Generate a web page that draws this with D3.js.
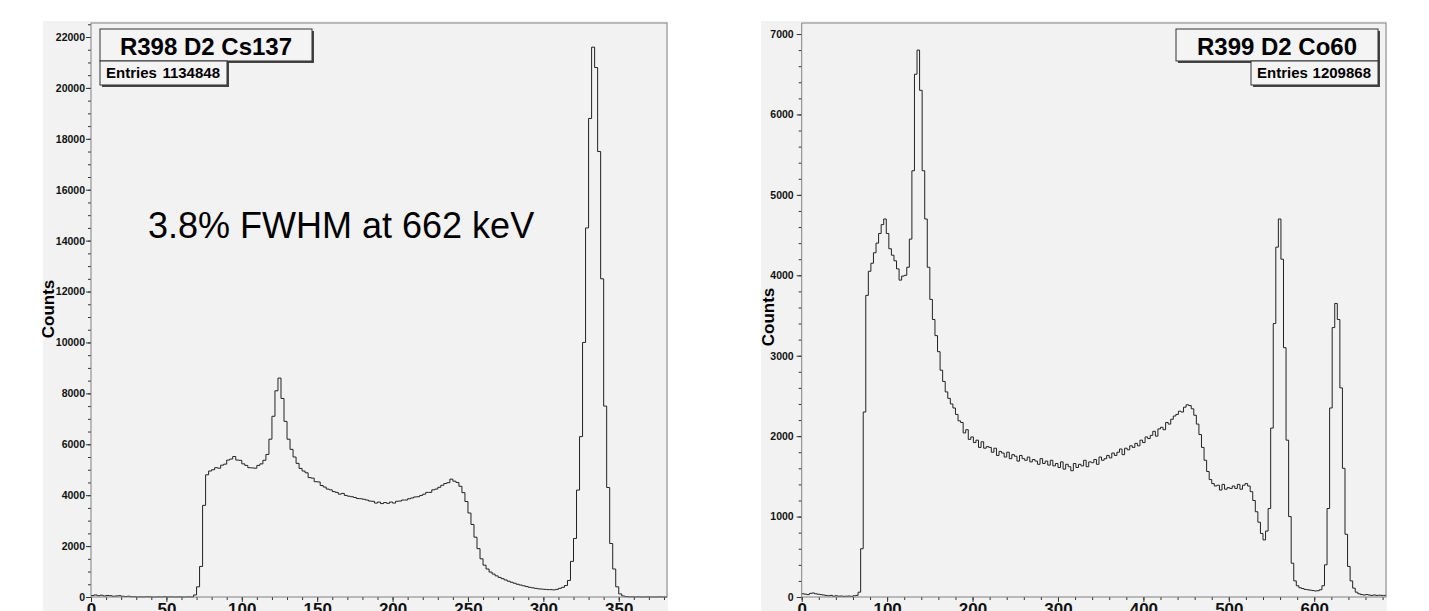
<!DOCTYPE html>
<html>
<meta charset="utf-8">
<head>
    <title>R398 D2 Cs137 / R399 D2 Co60</title>
    <script src="https://d3js.org/d3.v7.min.js" charset="utf-8"></script>
    <style>
    body { margin: 0; background: #fff; }
    svg text { font-family: "Liberation Sans", Arial, Helvetica, sans-serif; }
    </style>
</head>
<body>
<script>

// ---- Cs137 run (left), bins of 2 channels ----
var csBinWidth = 2;
var csCounts = [
    60, 80, 50, 70, 40, 60, 50, 30, 40, 50,
    30, 20, 30, 10, 10, 0, 5, 0, 10, 5,
    0, 0, 5, 0, 10, 0, 5, 0, 0, 5,
    0, 0, 5, 0, 80, 400, 1200, 3600, 4800, 4950,
    5000, 5080, 5060, 5180, 5220, 5380, 5420, 5520, 5380, 5370,
    5230, 5170, 5080, 5070, 5060, 5170, 5230, 5370, 5600, 6200,
    7100, 8100, 8600, 7800, 6900, 6200, 5800, 5500, 5250, 5050,
    4950, 4880, 4690, 4670, 4530, 4520, 4380, 4320, 4240, 4210,
    4140, 4110, 4040, 4070, 3990, 3960, 3940, 3910, 3870, 3860,
    3840, 3810, 3770, 3760, 3690, 3730, 3670, 3710, 3680, 3730,
    3690, 3760, 3770, 3810, 3810, 3860, 3890, 3930, 3940, 3990,
    4040, 4110, 4110, 4210, 4240, 4310, 4390, 4460, 4490, 4630,
    4550, 4500, 4350, 4100, 3750, 3300, 2850, 2350, 1900, 1500,
    1250, 1100, 980, 900, 830, 770, 720, 670, 620, 580,
    540, 500, 470, 440, 410, 380, 360, 340, 320, 310,
    300, 290, 290, 280, 300, 340, 380, 450, 650, 1400,
    2300, 4200, 6300, 10000, 14500, 18800, 21600, 20800, 17500, 12500,
    7500, 4300, 2100, 1100, 400, 120, 40, 15, 5, 5,
    0, 5, 0, 0, 5, 0, 0, 0, 5, 0,
    0
];
var csXTicks = [0, 50, 100, 150, 200, 250, 300, 350];
var csYTicks = [0, 2000, 4000, 6000, 8000, 10000, 12000, 14000, 16000, 18000, 20000, 22000];

// ---- Co60 run (right), bins of 3 channels ----
var coBinWidth = 3;
var coCounts = [
    40, 35, 30, 45, 50, 40, 35, 30, 25, 20, 15, 20,
    10, 15, 10, 12, 8, 10, 12, 8, 15, 20, 60, 600,
    2300, 3750, 4050, 4150, 4280, 4400, 4520, 4630, 4700, 4520, 4330, 4250,
    4180, 4080, 3940, 3990, 4000, 4100, 4450, 5300, 6500, 6800, 6300, 5300,
    4700, 4100, 3700, 3450, 3250, 3050, 2820, 2680, 2550, 2470, 2400, 2350,
    2270, 2190, 2170, 2040, 2080, 1960, 1990, 1920, 1950, 1860, 1930, 1850,
    1870, 1860, 1800, 1850, 1760, 1810, 1790, 1740, 1800, 1720, 1770, 1750,
    1690, 1760, 1720, 1700, 1740, 1680, 1710, 1690, 1650, 1720, 1660, 1690,
    1640, 1700, 1630, 1660, 1610, 1680, 1590, 1650, 1620, 1570, 1660, 1610,
    1650, 1630, 1700, 1620, 1680, 1670, 1710, 1650, 1740, 1700, 1720, 1760,
    1730, 1790, 1760, 1800, 1840, 1770, 1850, 1830, 1880, 1860, 1910, 1880,
    1950, 1920, 1990, 1970, 2010, 2060, 2000, 2090, 2110, 2080, 2170, 2150,
    2210, 2250, 2270, 2310, 2300, 2360, 2390, 2380, 2340, 2260, 2150, 2020,
    1860, 1700, 1560, 1460, 1410, 1380, 1390, 1330, 1400, 1340, 1360, 1350,
    1380, 1350, 1400, 1340, 1390, 1410, 1380, 1310, 1200, 1060, 930, 790,
    710, 820, 1100, 2100, 3400, 4350, 4700, 4200, 3100, 1950, 1000, 420,
    200, 140, 115, 105, 95, 90, 85, 80, 75, 78, 90, 140,
    400, 1100, 2350, 3350, 3650, 3450, 2600, 1600, 780, 380, 200, 110,
    60, 40, 30, 25, 30, 25, 20, 25, 20, 22, 20, 20
];
var coXTicks = [0, 100, 200, 300, 400, 500, 600];
var coYTicks = [0, 1000, 2000, 3000, 4000, 5000, 6000, 7000];

var width = 1429;
var height = 611;

var svg = d3.select("body")
    .append("svg")
    .attr("width", width)
    .attr("height", height);

function drawPanel(p) {
    var g = svg.append("g");

    // pad background
    g.append("rect")
        .attr("x", p.bgLeft).attr("y", 21)
        .attr("width", p.right + 1 - p.bgLeft).attr("height", height - 21)
        .attr("fill", "#f2f2f2");

    var x = d3.scaleLinear().domain([0, p.xMax]).range([p.left, p.right]);
    var y = d3.scaleLinear().domain([0, p.yMax]).range([597, 23]);

    // minor ticks
    g.append("g")
        .attr("transform", "translate(" + p.left + ",0)")
        .call(d3.axisLeft(y).tickValues(d3.range(0, p.yMax, p.yMinor)).tickSize(3).tickFormat(""));
    g.append("g")
        .attr("transform", "translate(0,597)")
        .call(d3.axisBottom(x).tickValues(d3.range(0, p.xMax, p.xMinor)).tickSize(3).tickFormat(""));

    // major ticks with labels
    var yAxis = g.append("g")
        .attr("transform", "translate(" + p.left + ",0)")
        .call(d3.axisLeft(y).tickValues(p.yTicks).tickSize(5).tickPadding(p.yPad)
            .tickFormat(d3.format("d")));
    yAxis.selectAll("text")
        .attr("font-size", "10.5px").attr("font-weight", "bold").attr("fill", "#111");

    var xAxis = g.append("g")
        .attr("transform", "translate(0,597)")
        .call(d3.axisBottom(x).tickValues(p.xTicks).tickSize(5).tickPadding(1)
            .tickFormat(d3.format("d")));
    xAxis.selectAll("text")
        .attr("font-size", "17px").attr("font-weight", "bold").attr("fill", "#111");

    g.selectAll(".domain").remove();
    g.selectAll(".tick line").attr("stroke", "#333");

    // histogram outline
    var pts = p.counts.map(function(c, i) { return [i * p.binWidth, c]; });
    pts.push([p.counts.length * p.binWidth, p.counts[p.counts.length - 1]]);

    var line = d3.line()
        .x(function(d) { return x(d[0]); })
        .y(function(d) { return y(d[1]); })
        .curve(d3.curveStepAfter);

    g.append("path")
        .datum(pts)
        .attr("fill", "none")
        .attr("stroke", "#222")
        .attr("stroke-width", 1)
        .attr("d", line);

    // frame
    g.append("rect")
        .attr("x", p.left).attr("y", 23)
        .attr("width", p.right - p.left).attr("height", 574)
        .attr("fill", "none")
        .attr("stroke", "#808080")
        .attr("stroke-width", 1);

    // y title
    g.append("text")
        .attr("transform", "translate(" + p.countsX + "," + p.countsY + ") rotate(-90)")
        .attr("text-anchor", "middle")
        .attr("font-size", "17px")
        .attr("font-weight", "bold")
        .text("Counts");

    // title box
    paveBox(g, p.titleBox, 29, 61);
    g.append("text")
        .attr("x", (p.titleBox[0] + p.titleBox[1]) / 2).attr("y", 55)
        .attr("text-anchor", "middle")
        .attr("font-size", "24px").attr("font-weight", "bold")
        .text(p.title);

    // stats box
    paveBox(g, p.statBox, 61, 85);
    g.append("text")
        .attr("x", p.statBox[0] + 6).attr("y", 77.5)
        .attr("font-size", "15px").attr("font-weight", "bold")
        .text("Entries");
    g.append("text")
        .attr("x", p.statBox[1] - 7).attr("y", 77.5)
        .attr("text-anchor", "end")
        .attr("font-size", "15px").attr("font-weight", "bold")
        .text(p.entries);

    return { x: x, y: y, g: g };
}

function paveBox(g, xs, y0, y1) {
    g.append("rect")
        .attr("x", xs[0] + 2).attr("y", y0 + 2)
        .attr("width", xs[1] - xs[0]).attr("height", y1 - y0)
        .attr("fill", "#444");
    g.append("rect")
        .attr("x", xs[0]).attr("y", y0)
        .attr("width", xs[1] - xs[0]).attr("height", y1 - y0)
        .attr("fill", "#f4f4f4")
        .attr("stroke", "#333")
        .attr("stroke-width", 1);
}

var left = drawPanel({
    bgLeft: 43, left: 91, right: 667,
    xMax: 382, yMax: 22550,
    xMinor: 10, yMinor: 500,
    xTicks: csXTicks, yTicks: csYTicks, yPad: 1,
    counts: csCounts, binWidth: csBinWidth,
    countsX: 54, countsY: 309,
    title: "R398 D2 Cs137", titleBox: [100, 312],
    entries: "1134848", statBox: [100, 227]
});

left.g.append("text")
    .attr("x", 148).attr("y", 238)
    .attr("font-size", "36px")
    .text("3.8% FWHM at 662 keV");

drawPanel({
    bgLeft: 761, left: 801.7, right: 1386,
    xMax: 684, yMax: 7137,
    xMinor: 20, yMinor: 200,
    xTicks: coXTicks, yTicks: coYTicks, yPad: 3,
    counts: coCounts, binWidth: coBinWidth,
    countsX: 774, countsY: 317,
    title: "R399 D2 Co60", titleBox: [1176, 1378],
    entries: "1209868", statBox: [1251, 1378]
});

</script>
</body>
</html>
